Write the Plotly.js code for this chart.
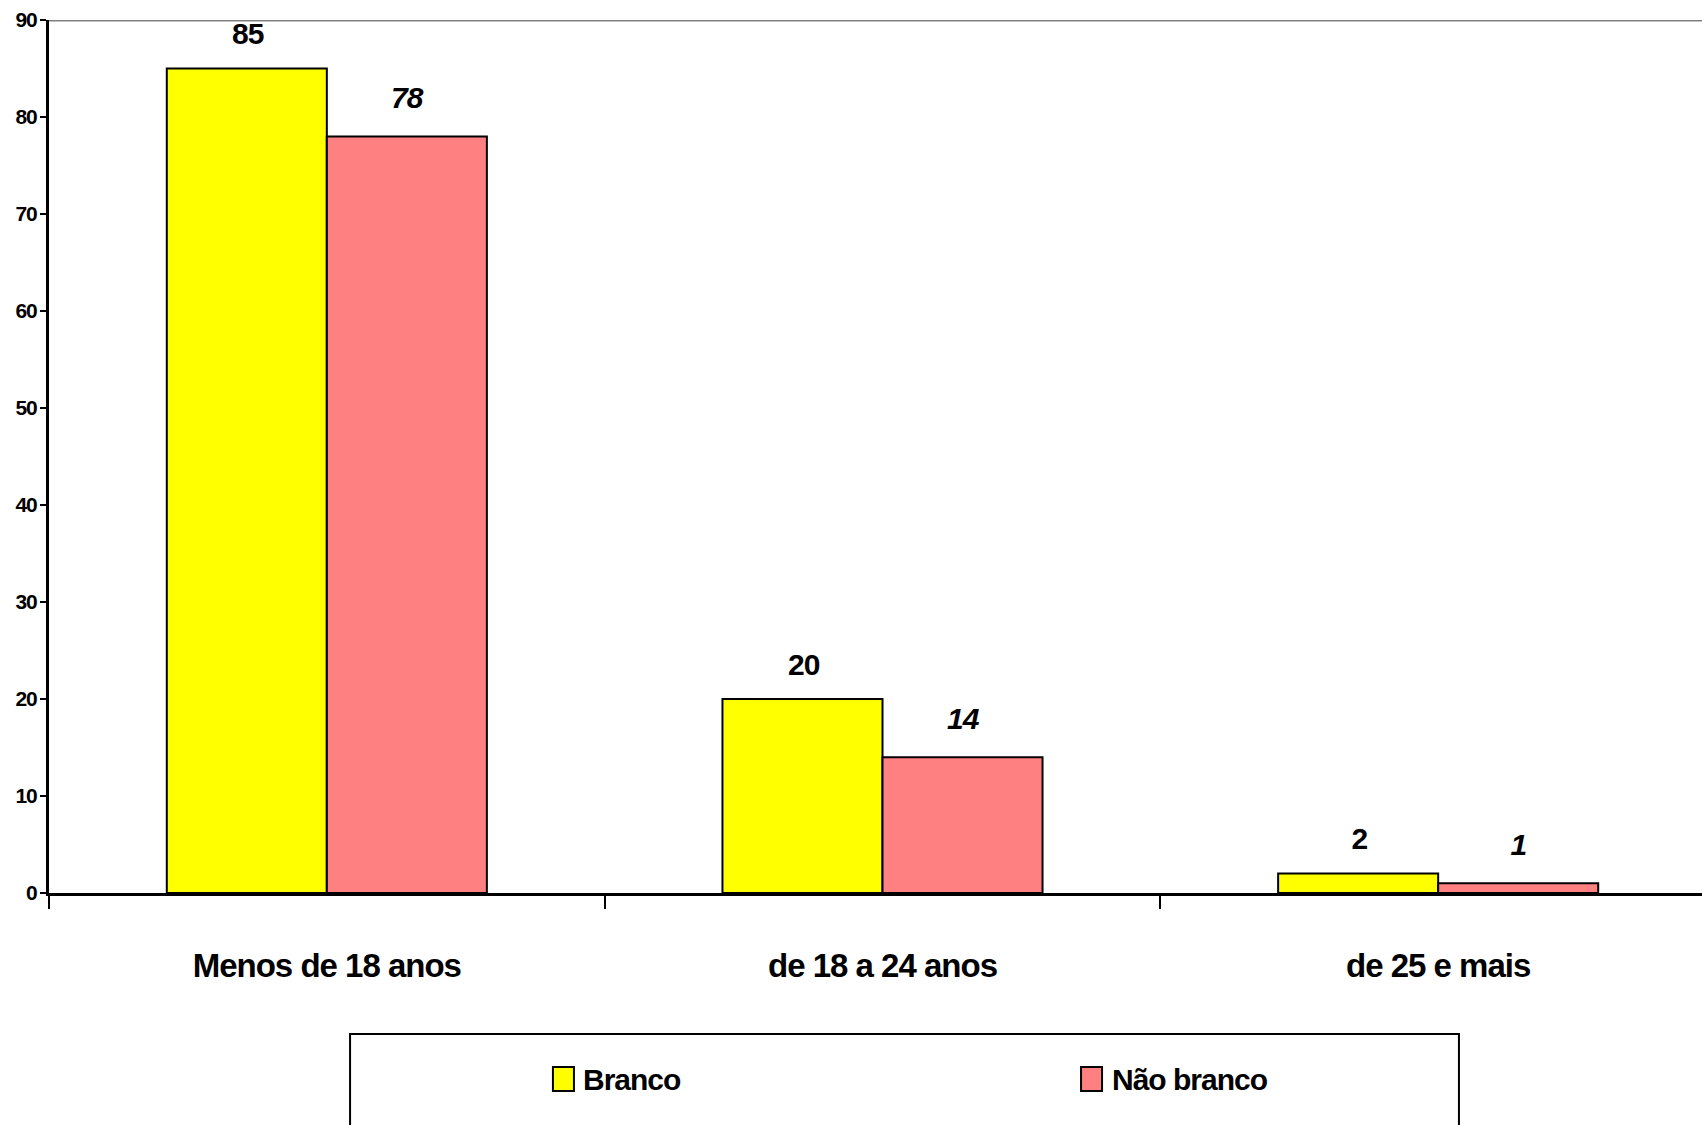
<!DOCTYPE html>
<html>
<head>
<meta charset="utf-8">
<script src="https://cdn.plot.ly/plotly-3.0.1.min.js"></script>
<style>
  html, body { margin: 0; padding: 0; overflow: hidden; background: #ffffff; }
  #chart { width: 1720px; height: 1125px; }
  /* texto mais compacto, à maneira de uma fonte condensada */
  #chart svg text { letter-spacing: -1px; }
</style>
</head>
<body>
<div id="chart"></div>
<script>
// Faixas etárias e percentuais por cor/raça
const categories = ["Menos de 18 anos", "de 18 a 24 anos", "de 25 e mais"];
const seriesNames = ["Branco", "Não branco"];
const branco = [85, 20, 2];
const naoBranco = [78, 14, 1];
const yTickValues = [0, 10, 20, 30, 40, 50, 60, 70, 80, 90];

const FONT = "'Liberation Sans', Arial, sans-serif";
const YELLOW = "#FFFF00";
const PINK = "#FF8080";

const traces = [
  {
    type: "bar", name: seriesNames[0], x: categories, y: branco,
    marker: { color: YELLOW, line: { color: "#000000", width: 2 } },
    hoverinfo: "x+y"
  },
  {
    type: "bar", name: seriesNames[1], x: categories, y: naoBranco,
    marker: { color: PINK, line: { color: "#000000", width: 2 } },
    hoverinfo: "x+y"
  }
];

// Rótulos de valor acima de cada barra
const annotations = [];
categories.forEach((c, i) => {
  annotations.push({
    x: c, y: branco[i], xref: "x", yref: "y", text: String(branco[i]),
    showarrow: false, xshift: -79, yshift: 35, yanchor: "middle",
    font: { family: FONT, size: 30, color: "#000000", weight: "bold" }
  });
  annotations.push({
    x: c, y: naoBranco[i], xref: "x", yref: "y", text: String(naoBranco[i]),
    showarrow: false, xshift: 80, yshift: 39, yanchor: "middle",
    font: { family: FONT, size: 30, color: "#000000", weight: "bold", style: "italic" }
  });
});

// Legenda desenhada em caixa própria
const legendY = -0.2142;
const legendItems = [
  { name: seriesNames[0], color: YELLOW, x0: 0.3023, x1: 0.3149, tx: 0.3171 },
  { name: seriesNames[1], color: PINK, x0: 0.6191, x1: 0.6317, tx: 0.6333 }
];

const shapes = [
  // linha superior do quadro
  { type: "line", xref: "paper", yref: "y", x0: 0, x1: 1, y0: 90, y1: 90,
    line: { color: "#808080", width: 3 }, layer: "below" },
  // caixa da legenda
  { type: "rect", xref: "paper", yref: "paper", x0: 0.1806, x1: 0.8458, y0: -0.1615, y1: -0.45,
    line: { color: "#000000", width: 2 }, fillcolor: "rgba(0,0,0,0)" }
];
legendItems.forEach(it => {
  shapes.push({ type: "rect", xref: "paper", yref: "paper", x0: it.x0, x1: it.x1,
    y0: -0.1993, y1: -0.2268, line: { color: "#000000", width: 2 }, fillcolor: it.color });
  annotations.push({ xref: "paper", yref: "paper", x: it.tx, y: legendY, text: it.name,
    xanchor: "left", yanchor: "middle", showarrow: false,
    font: { family: FONT, size: 30, color: "#000000", weight: "bold" } });
});

const layout = {
  width: 1720, height: 1125,
  margin: { l: 49, r: 4, t: 20, b: 232, pad: 0 },
  paper_bgcolor: "#ffffff", plot_bgcolor: "#ffffff",
  barmode: "group", bargap: 0.424, bargroupgap: 0,
  showlegend: false,
  font: { family: FONT, color: "#000000" },
  xaxis: {
    type: "category", range: [-0.5, 2.5],
    showline: true, linecolor: "#000000", linewidth: 3,
    ticks: "outside", tickson: "boundaries", ticklen: 13, tickwidth: 2, tickcolor: "#000000",
    ticklabelstandoff: 41,
    tickfont: { family: FONT, size: 33, color: "#000000", weight: "bold" },
    showgrid: false, zeroline: false, fixedrange: true
  },
  yaxis: {
    range: [0, 90], tickvals: yTickValues, ticktext: yTickValues.map(String),
    showline: true, linecolor: "#000000", linewidth: 3,
    ticks: "outside", ticklen: 6, tickwidth: 2, tickcolor: "#000000",
    ticklabelstandoff: -1,
    tickfont: { family: FONT, size: 21, color: "#000000", weight: "bold" },
    showgrid: false, zeroline: false, fixedrange: true
  },
  shapes: shapes,
  annotations: annotations
};

Plotly.newPlot("chart", traces, layout, { displayModeBar: false, staticPlot: true });
</script>
</body>
</html>
